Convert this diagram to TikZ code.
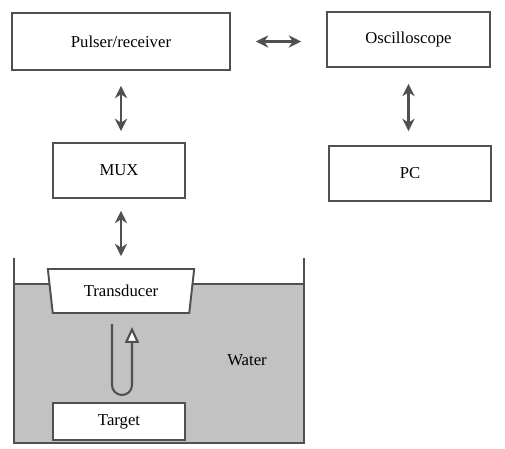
\documentclass[tikz,border=0pt]{standalone}
\usepackage{fontspec}
\setmainfont{Liberation Serif}
\usetikzlibrary{arrows.meta,shapes.geometric,calc}
\definecolor{linegray}{HTML}{505050}
\definecolor{watergray}{HTML}{C2C2C2}
\begin{document}
\begin{tikzpicture}[x=0.02cm,y=-0.02cm,font=\fontsize{9.5}{11}\selectfont,
  line width=0.9pt,draw=linegray,
  box/.style={draw=linegray,fill=white,line width=1.1pt,inner sep=0pt},
  link/.style={draw=linegray,line width=1.3pt,{Stealth[length=7pt,width=7pt]}-{Stealth[length=7pt,width=7pt]}}]
\useasboundingbox (0,0) rectangle (505,449);

% tank with water
\fill[watergray] (14,284) rectangle (304,443);
\draw[linegray,line width=1.2pt] (14,258) -- (14,443) -- (304,443) -- (304,258);
\draw[linegray,line width=1.1pt] (14,284) -- (304,284);
\node at (247,360) {Water};

\node[box,minimum width=218*0.02cm,minimum height=57*0.02cm] (pr) at (121,41.5) {Pulser/receiver};
\node[box,minimum width=163*0.02cm,minimum height=55*0.02cm] (osc) at (408.5,39.5) {Oscilloscope};
\node[box,minimum width=132*0.02cm,minimum height=55*0.02cm] (mux) at (119,170.5) {MUX};
\node[box,minimum width=162*0.02cm,minimum height=55*0.02cm] (pc) at (410,173.5) {PC};
\node[box,trapezium,shape border rotate=180,trapezium stretches=true,trapezium angle=77,
  minimum width=147*0.02cm,minimum height=44*0.02cm] (trans) at (121,291) {Transducer};
\node[box,minimum width=132*0.02cm,minimum height=37*0.02cm] (target) at (119,421.5) {Target};

\draw[link,shorten <=15*0.02cm,shorten >=11*0.02cm] (pr.south) -- (pr.south |- mux.north);
\draw[link,shorten <=25*0.02cm,shorten >=25*0.02cm] (pr.east) -- (pr.east -| osc.west);
\draw[link,shorten <=16*0.02cm,shorten >=14*0.02cm] (osc.south) -- (osc.south |- pc.north);
\draw[link,shorten <=12*0.02cm,shorten >=12*0.02cm] (mux.south -| pr.south) -- (pr.south |- trans.north);

% echo path
\coordinate (echo out) at ($(trans.south)+(-9,10)$);
\coordinate (echo in) at ($(trans.south)+(11,13)$);
\draw[linegray,line width=1.2pt,-{Triangle[open,fill=white,length=16*0.02cm,width=14*0.02cm]}]
  (echo out) -- (112,385) arc[start angle=180,end angle=0,radius=10] -- (echo in);
\end{tikzpicture}
\end{document}
